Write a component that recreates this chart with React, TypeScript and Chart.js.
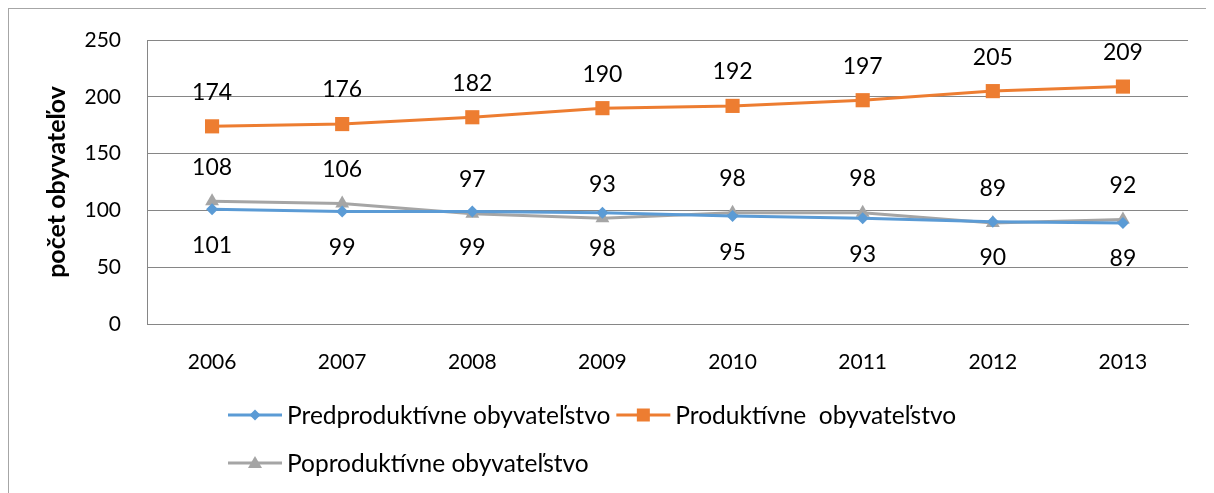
import React, { useEffect, useRef } from "react";
import { Chart, registerables } from "chart.js";

Chart.register(...registerables);

const years = ["2006", "2007", "2008", "2009", "2010", "2011", "2012", "2013"];
const predproduktivne = [101, 99, 99, 98, 95, 93, 90, 89];
const produktivne = [174, 176, 182, 190, 192, 197, 205, 209];
const poproduktivne = [108, 106, 97, 93, 98, 98, 89, 92];
const seriesNames = [
  "Predproduktívne obyvateľstvo",
  "Produktívne  obyvateľstvo",
  "Poproduktívne obyvateľstvo",
];
const yTitle = "počet obyvateľov";

const BLUE = "#5B9BD5";
const ORANGE = "#ED7D31";
const GRAY = "#A5A5A5";
const FONT = "Lato, 'Open Sans', sans-serif";

const labelPlugin = {
  id: "valueLabels",
  afterDatasetsDraw(chart: any) {
    const ctx = chart.ctx;
    ctx.save();
    ctx.font = `23px ${FONT}`;
    ctx.fillStyle = "#000";
    ctx.textAlign = "center";
    ctx.textBaseline = "middle";
    chart.data.datasets.forEach((ds: any, i: number) => {
      const meta = chart.getDatasetMeta(i);
      const below = ds.labelPos === "below";
      meta.data.forEach((pt: any, j: number) => {
        const y = below ? pt.y + 36 : pt.y - 34;
        ctx.fillText(String(ds.data[j]), pt.x, y);
      });
    });
    ctx.restore();
  },
};

function drawMarker(ctx: CanvasRenderingContext2D, style: string, x: number, y: number, color: string) {
  ctx.fillStyle = color;
  ctx.beginPath();
  if (style === "rectRot") {
    const r = 5.5;
    ctx.moveTo(x, y - r);
    ctx.lineTo(x + r, y);
    ctx.lineTo(x, y + r);
    ctx.lineTo(x - r, y);
  } else if (style === "rect") {
    ctx.rect(x - 6.5, y - 6.5, 13, 13);
  } else {
    ctx.moveTo(x, y - 7);
    ctx.lineTo(x + 7, y + 5);
    ctx.lineTo(x - 7, y + 5);
  }
  ctx.closePath();
  ctx.fill();
}

const legendPlugin = {
  id: "customLegend",
  afterDraw(chart: any) {
    const ctx = chart.ctx;
    ctx.save();
    ctx.font = `24.5px ${FONT}`;
    ctx.textBaseline = "middle";
    ctx.textAlign = "left";
    const startX = 219;
    const w0 = ctx.measureText(chart.data.datasets[0].label).width;
    const items = [
      { x: startX, y: 406, idx: 0 },
      { x: startX + 59 + w0 + 6, y: 406, idx: 1 },
      { x: startX, y: 454, idx: 2 },
    ];
    items.forEach((it) => {
      const ds = chart.data.datasets[it.idx];
      ctx.strokeStyle = ds.borderColor;
      ctx.lineWidth = 3;
      ctx.beginPath();
      ctx.moveTo(it.x, it.y);
      ctx.lineTo(it.x + 54, it.y);
      ctx.stroke();
      drawMarker(ctx, ds.pointStyle, it.x + 27, it.y, ds.borderColor);
      ctx.fillStyle = "#000";
      ctx.fillText(ds.label, it.x + 59, it.y + 1);
    });
    ctx.restore();
  },
};

export default function App() {
  const ref = useRef<HTMLCanvasElement>(null);
  useEffect(() => {
    if (!ref.current) return;
    const chart = new Chart(ref.current, {
      type: "line",
      data: {
        labels: years,
        datasets: [
          {
            label: seriesNames[0],
            data: predproduktivne,
            borderColor: BLUE,
            backgroundColor: BLUE,
            borderWidth: 3,
            pointStyle: "rectRot",
            pointRadius: 6,
            pointBorderWidth: 0,
            labelPos: "below",
          } as any,
          {
            label: seriesNames[1],
            data: produktivne,
            borderColor: ORANGE,
            backgroundColor: ORANGE,
            borderWidth: 3,
            pointStyle: "rect",
            pointRadius: 10,
            pointBorderWidth: 0,
            labelPos: "above",
          } as any,
          {
            label: seriesNames[2],
            data: poproduktivne,
            borderColor: GRAY,
            backgroundColor: GRAY,
            borderWidth: 3,
            pointStyle: "triangle",
            pointRadius: 8,
            pointBorderWidth: 0,
            labelPos: "above",
          } as any,
        ],
      },
      options: {
        animation: false,
        responsive: false,
        layout: { padding: { top: 31, right: 26, left: 0, bottom: 0 } },
        plugins: {
          legend: { display: false },
          tooltip: { enabled: false },
        },
        elements: { line: { tension: 0 } },
        scales: {
          x: {
            offset: true,
            grid: { display: false, drawTicks: false },
            border: { display: true, color: "#868686", width: 1 },
            ticks: { color: "#000", font: { family: FONT, size: 21 }, padding: 26 },
            afterFit: (s: any) => {
              s.height = 169;
              s.paddingLeft = 0;
              s.paddingRight = 0;
            },
          },
          y: {
            min: 0,
            max: 250,
            ticks: { stepSize: 50, color: "#000", font: { family: FONT, size: 21 }, padding: 26 },
            grid: { color: "#868686", drawTicks: false },
            border: { display: true, color: "#868686", width: 1 },
            title: {
              display: true,
              text: yTitle,
              color: "#000",
              font: { family: FONT, size: 25, weight: "bold" },
              padding: { top: 33, bottom: 0 },
            },
            afterFit: (s: any) => {
              s.width = 138;
              s.paddingTop = 0;
              s.paddingBottom = 0;
            },
          },
        },
      },
      plugins: [labelPlugin, legendPlugin],
    });
    return () => chart.destroy();
  }, []);
  return (
    <div
      style={{
        width: 1206,
        height: 485,
        borderLeft: "1px solid #a6a6a6",
        borderTop: "1px solid #a6a6a6",
        boxSizing: "border-box",
        overflow: "hidden",
      }}
    >
      <canvas ref={ref} width={1205} height={484} style={{ display: "block" }} />
    </div>
  );
}
